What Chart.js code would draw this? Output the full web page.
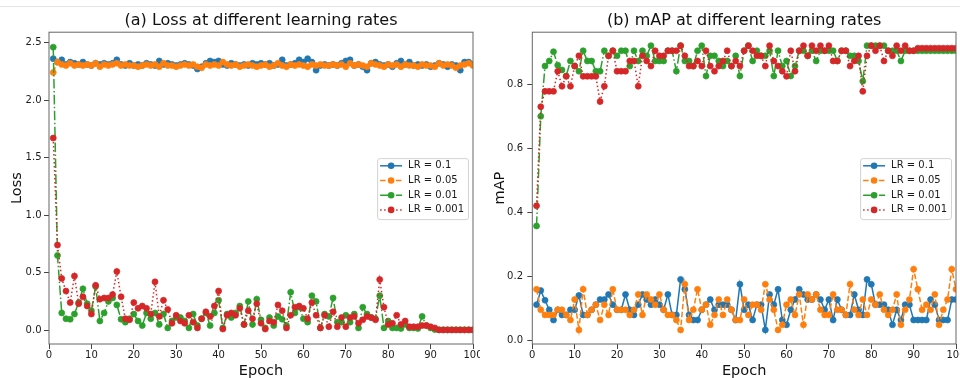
<!DOCTYPE html>
<html>
<head>
<meta charset="utf-8">
<script src="https://cdn.jsdelivr.net/npm/chart.js@4.4.1/dist/chart.umd.min.js"></script>
<style>
    html, body { margin: 0; padding: 0; background: #fff; }
    #wrap { position: relative; width: 960px; height: 378px; overflow: hidden; }
    .topline { position: absolute; left: 0; top: 6px; width: 960px; height: 1px; background: #e4e4e4; }
    .panel { position: absolute; top: 0; width: 480px; height: 378px; }
</style>
</head>
<body>
<div id="wrap">
    <div class="topline"></div>
    <div class="panel" style="left:0"><canvas id="lossChart"></canvas></div>
    <div class="panel" style="left:480px"><canvas id="mapChart"></canvas></div>
</div>
<script>
// ----------------- Data -----------------//
const epochs = Array.from({ length: 100 }, (_, i) => i + 1);
const seriesLabels = ['LR = 0.1', 'LR = 0.05', 'LR = 0.01', 'LR = 0.001'];
const xTicks = [0, 10, 20, 30, 40, 50, 60, 70, 80, 90, 100];
const lossTicks = [0.0, 0.5, 1.0, 1.5, 2.0, 2.5];
const mapTicks = [0.0, 0.2, 0.4, 0.6, 0.8];

// (a) Loss
const lossLr01 = [
    2.36, 2.33, 2.35, 2.31, 2.33, 2.32, 2.31, 2.33, 2.31, 2.30,
    2.32, 2.31, 2.32, 2.31, 2.32, 2.35, 2.31, 2.30, 2.32, 2.30,
    2.31, 2.30, 2.32, 2.31, 2.30, 2.34, 2.31, 2.32, 2.31, 2.30,
    2.31, 2.32, 2.31, 2.30, 2.27, 2.29, 2.32, 2.34, 2.33, 2.34,
    2.31, 2.30, 2.32, 2.31, 2.30, 2.31, 2.30, 2.32, 2.31, 2.32,
    2.31, 2.32, 2.30, 2.31, 2.35, 2.30, 2.31, 2.32, 2.35, 2.33,
    2.36, 2.33, 2.26, 2.30, 2.31, 2.30, 2.31, 2.30, 2.32, 2.34,
    2.35, 2.30, 2.31, 2.29, 2.26, 2.32, 2.33, 2.31, 2.30, 2.31,
    2.29, 2.32, 2.34, 2.31, 2.33, 2.30, 2.31, 2.30, 2.31, 2.29,
    2.30, 2.32, 2.31, 2.29, 2.31, 2.30, 2.26, 2.33, 2.33, 2.31
];
const lossLr005 = [
    2.24, 2.33, 2.31, 2.30, 2.32, 2.30, 2.31, 2.30, 2.31, 2.30,
    2.32, 2.29, 2.31, 2.30, 2.31, 2.32, 2.30, 2.31, 2.30, 2.30,
    2.29, 2.30, 2.31, 2.30, 2.31, 2.29, 2.32, 2.30, 2.30, 2.29,
    2.30, 2.31, 2.30, 2.31, 2.29, 2.28, 2.31, 2.30, 2.31, 2.30,
    2.33, 2.31, 2.30, 2.31, 2.29, 2.30, 2.31, 2.30, 2.29, 2.30,
    2.31, 2.29, 2.30, 2.32, 2.30, 2.29, 2.31, 2.30, 2.31, 2.30,
    2.29, 2.31, 2.30, 2.31, 2.30, 2.30, 2.31, 2.30, 2.31, 2.29,
    2.32, 2.30, 2.31, 2.30, 2.29, 2.32, 2.31, 2.30, 2.29, 2.31,
    2.30, 2.31, 2.29, 2.31, 2.30, 2.30, 2.29, 2.31, 2.30, 2.30,
    2.29, 2.32, 2.30, 2.31, 2.30, 2.28, 2.30, 2.31, 2.32, 2.30
];
const lossLr001 = [
    2.46, 0.65, 0.15, 0.10, 0.095, 0.14, 0.24, 0.36, 0.23, 0.17,
    0.38, 0.08, 0.15, 0.25, 0.28, 0.22, 0.095, 0.07, 0.10, 0.14,
    0.08, 0.04, 0.15, 0.10, 0.15, 0.05, 0.14, 0.02, 0.08, 0.11,
    0.11, 0.08, 0.02, 0.14, 0.04, 0.10, 0.15, 0.04, 0.15, 0.26,
    0.02, 0.14, 0.11, 0.15, 0.21, 0.05, 0.25, 0.05, 0.27, 0.09,
    0.02, 0.11, 0.04, 0.12, 0.095, 0.04, 0.33, 0.15, 0.20, 0.10,
    0.07, 0.30, 0.25, 0.02, 0.14, 0.12, 0.28, 0.07, 0.07, 0.13,
    0.07, 0.14, 0.02, 0.20, 0.14, 0.11, 0.10, 0.30, 0.02, 0.08,
    0.02, 0.02, 0.015, 0.05, 0.02, 0.02, 0.015, 0.12, 0.04, 0.02,
    0.005, 0.004, 0.004, 0.004, 0.004, 0.004, 0.004, 0.004, 0.004, 0.004
];
const lossLr0001 = [
    1.67, 0.74, 0.45, 0.34, 0.24, 0.47, 0.23, 0.29, 0.21, 0.14,
    0.39, 0.27, 0.28, 0.28, 0.31, 0.51, 0.29, 0.10, 0.09, 0.24,
    0.19, 0.21, 0.19, 0.14, 0.42, 0.12, 0.26, 0.18, 0.06, 0.13,
    0.08, 0.06, 0.13, 0.07, 0.02, 0.10, 0.16, 0.12, 0.21, 0.34,
    0.01, 0.13, 0.15, 0.13, 0.19, 0.05, 0.17, 0.10, 0.23, 0.06,
    0.01, 0.08, 0.07, 0.22, 0.17, 0.02, 0.13, 0.20, 0.21, 0.19,
    0.10, 0.24, 0.13, 0.02, 0.13, 0.03, 0.16, 0.03, 0.11, 0.03,
    0.11, 0.12, 0.06, 0.09, 0.12, 0.11, 0.09, 0.44, 0.20, 0.05,
    0.06, 0.13, 0.05, 0.08, 0.03, 0.03, 0.03, 0.04, 0.04, 0.03,
    0.02, 0.002, 0.002, 0.002, 0.002, 0.002, 0.002, 0.002, 0.002, 0.002
];

// (b) mAP
const mapLr01 = [
    0.111, 0.155, 0.125, 0.095, 0.063, 0.095, 0.079, 0.079, 0.095, 0.095,
    0.140, 0.079, 0.079, 0.095, 0.111, 0.127, 0.127, 0.143, 0.111, 0.095,
    0.095, 0.143, 0.095, 0.079, 0.111, 0.143, 0.127, 0.111, 0.127, 0.111,
    0.095, 0.143, 0.079, 0.079, 0.190, 0.159, 0.079, 0.063, 0.063, 0.095,
    0.111, 0.127, 0.095, 0.111, 0.111, 0.111, 0.095, 0.063, 0.175, 0.095,
    0.111, 0.063, 0.111, 0.111, 0.032, 0.143, 0.111, 0.159, 0.063, 0.048,
    0.095, 0.127, 0.159, 0.143, 0.127, 0.127, 0.143, 0.127, 0.095, 0.127,
    0.063, 0.127, 0.095, 0.079, 0.079, 0.143, 0.095, 0.079, 0.190, 0.175,
    0.111, 0.111, 0.111, 0.095, 0.048, 0.095, 0.063, 0.111, 0.111, 0.063,
    0.063, 0.063, 0.063, 0.127, 0.111, 0.063, 0.063, 0.063, 0.127, 0.127
];
const mapLr005 = [
    0.159, 0.095, 0.079, 0.079, 0.079, 0.095, 0.095, 0.079, 0.063, 0.127,
    0.032, 0.159, 0.079, 0.095, 0.111, 0.063, 0.111, 0.079, 0.159, 0.095,
    0.095, 0.095, 0.079, 0.095, 0.143, 0.079, 0.143, 0.127, 0.111, 0.143,
    0.095, 0.079, 0.079, 0.063, 0.032, 0.175, 0.063, 0.095, 0.159, 0.095,
    0.111, 0.048, 0.079, 0.127, 0.079, 0.127, 0.095, 0.063, 0.063, 0.127,
    0.079, 0.111, 0.111, 0.095, 0.175, 0.127, 0.095, 0.032, 0.048, 0.111,
    0.127, 0.079, 0.143, 0.048, 0.143, 0.127, 0.143, 0.095, 0.079, 0.079,
    0.143, 0.095, 0.095, 0.079, 0.175, 0.095, 0.079, 0.127, 0.079, 0.127,
    0.111, 0.143, 0.095, 0.079, 0.095, 0.143, 0.048, 0.095, 0.127, 0.222,
    0.159, 0.095, 0.111, 0.095, 0.143, 0.048, 0.095, 0.127, 0.222, 0.159
];
const mapLr001 = [
    0.357, 0.700, 0.857, 0.873, 0.902, 0.860, 0.845, 0.826, 0.873, 0.857,
    0.841, 0.905, 0.873, 0.873, 0.841, 0.841, 0.905, 0.889, 0.905, 0.889,
    0.905, 0.905, 0.857, 0.905, 0.873, 0.905, 0.889, 0.921, 0.873, 0.873,
    0.873, 0.905, 0.905, 0.841, 0.921, 0.873, 0.873, 0.857, 0.905, 0.921,
    0.826, 0.889, 0.889, 0.873, 0.857, 0.873, 0.857, 0.889, 0.826, 0.905,
    0.921, 0.873, 0.905, 0.889, 0.889, 0.905, 0.826, 0.905, 0.857, 0.873,
    0.826, 0.857, 0.905, 0.905, 0.889, 0.905, 0.873, 0.905, 0.905, 0.905,
    0.905, 0.873, 0.905, 0.905, 0.889, 0.889, 0.873, 0.810, 0.921, 0.921,
    0.921, 0.921, 0.921, 0.905, 0.905, 0.905, 0.873, 0.905, 0.905, 0.905,
    0.905, 0.905, 0.905, 0.905, 0.905, 0.905, 0.905, 0.905, 0.905, 0.905
];
const mapLr0001 = [
    0.420, 0.730, 0.778, 0.778, 0.778, 0.841, 0.794, 0.825, 0.794, 0.857,
    0.889, 0.825, 0.825, 0.825, 0.825, 0.746, 0.794, 0.889, 0.905, 0.841,
    0.841, 0.841, 0.873, 0.873, 0.794, 0.889, 0.873, 0.857, 0.905, 0.889,
    0.889, 0.905, 0.905, 0.905, 0.921, 0.889, 0.857, 0.857, 0.873, 0.857,
    0.905, 0.857, 0.841, 0.857, 0.873, 0.905, 0.857, 0.873, 0.857, 0.905,
    0.921, 0.905, 0.889, 0.889, 0.857, 0.921, 0.873, 0.857, 0.841, 0.825,
    0.905, 0.841, 0.905, 0.921, 0.889, 0.921, 0.905, 0.921, 0.905, 0.921,
    0.873, 0.873, 0.905, 0.905, 0.857, 0.873, 0.889, 0.778, 0.889, 0.921,
    0.905, 0.921, 0.873, 0.905, 0.889, 0.921, 0.905, 0.921, 0.905, 0.905,
    0.913, 0.913, 0.913, 0.913, 0.913, 0.913, 0.913, 0.913, 0.913, 0.913
];

// ----------------- Styles -----------------//
Chart.defaults.font.family = '"DejaVu Sans", sans-serif';
Chart.defaults.color = '#1a1a1a';
const seriesColors = ['#1f77b4', '#ff7f0e', '#2ca02c', '#d62728'];
const seriesDash = [[], [5.5, 2.4], [9.6, 2.4, 1.5, 2.4], [1.5, 2.5]];

// cadre complet autour de la zone de tracé (comme matplotlib)
const frameBox = {
    id: 'frameBox',
    afterDatasetsDraw(chart) {
        const { ctx, chartArea: a } = chart;
        ctx.save();
        ctx.strokeStyle = '#666';
        ctx.lineWidth = 1;
        ctx.strokeRect(a.left, a.top, a.right - a.left, a.bottom - a.top);
        ctx.restore();
    }
};

// légende ligne + marqueur, centrée à droite
const lineLegend = {
    id: 'lineLegend',
    afterDraw(chart) {
        const { ctx, chartArea: a } = chart;
        const sets = chart.data.datasets;
        ctx.save();
        ctx.font = '10px "DejaVu Sans"';
        let textW = 0;
        sets.forEach(ds => { textW = Math.max(textW, ctx.measureText(ds.label).width); });
        const rowH = 14.7;
        const w = 3 + 22 + 6 + textW + 4;
        const h = 61;
        const x0 = a.right - 5 - w;
        const y0 = (a.top + a.bottom) / 2 - h / 2 + 0.5;
        ctx.beginPath();
        ctx.roundRect(x0 + 0.5, y0 + 0.5, w, h, 2.5);
        ctx.fillStyle = 'rgba(255,255,255,0.85)';
        ctx.fill();
        ctx.strokeStyle = '#d3d3d3';
        ctx.lineWidth = 1;
        ctx.stroke();
        sets.forEach((ds, i) => {
            const cy = y0 + 7.7 + i * rowH;
            ctx.strokeStyle = ds.borderColor;
            ctx.lineWidth = ds.borderWidth;
            ctx.setLineDash(ds.borderDash);
            ctx.beginPath();
            ctx.moveTo(x0 + 3, cy);
            ctx.lineTo(x0 + 25, cy);
            ctx.stroke();
            ctx.setLineDash([]);
            ctx.beginPath();
            ctx.arc(x0 + 14, cy, 3.3, 0, Math.PI * 2);
            ctx.fillStyle = ds.borderColor;
            ctx.fill();
            ctx.fillStyle = '#1a1a1a';
            ctx.textBaseline = 'middle';
            ctx.textAlign = 'left';
            ctx.fillText(ds.label, x0 + 31, cy);
        });
        ctx.restore();
    }
};

function buildDatasets(seriesList) {
    return seriesList.map((values, i) => ({
        label: seriesLabels[i],
        data: values.map((v, k) => ({ x: epochs[k], y: v })),
        borderColor: seriesColors[i],
        backgroundColor: seriesColors[i],
        borderWidth: 1.5,
        borderDash: seriesDash[i],
        pointRadius: 3,
        pointHoverRadius: 3,
        pointBorderWidth: 0.7,
        pointBackgroundColor: seriesColors[i],
        pointBorderColor: seriesColors[i],
        tension: 0,
        order: 4 - i   // rouge dessiné en dernier
    }));
}

function makePanel(canvasId, p) {
    const ctx = document.getElementById(canvasId).getContext('2d');
    return new Chart(ctx, {
        type: 'line',
        data: { datasets: buildDatasets(p.series) },
        plugins: [frameBox, lineLegend],
        options: {
            responsive: true,
            maintainAspectRatio: false,
            animation: false,
            devicePixelRatio: 1,
            layout: { padding: { left: 0, right: p.rightPad, top: 0, bottom: 0 } },
            plugins: {
                legend: { display: false },
                tooltip: { enabled: false },
                title: {
                    display: true,
                    text: p.title,
                    fullSize: false,
                    font: { size: 16, weight: 'normal' },
                    color: '#111',
                    padding: { top: 11, bottom: 2 }
                }
            },
            scales: {
                x: {
                    type: 'linear',
                    min: 0,
                    max: 100,
                    afterBuildTicks: s => { s.ticks = xTicks.map(v => ({ value: v })); },
                    afterFit: s => { s.height = 34; s.paddingLeft = 0; s.paddingRight = 0; },
                    border: { display: false },
                    grid: { drawOnChartArea: false, drawTicks: true, tickLength: 5, tickColor: '#444', tickWidth: 1 },
                    ticks: { font: { size: 10 }, padding: 0, maxRotation: 0, autoSkip: false, color: '#1a1a1a' },
                    title: { display: true, text: 'Epoch', font: { size: 14.5, lineHeight: 1 }, padding: { top: 0, bottom: 0 }, color: '#111' }
                },
                y: {
                    type: 'linear',
                    min: p.yMin,
                    max: p.yMax,
                    afterBuildTicks: s => { s.ticks = p.yTicks.map(v => ({ value: v })); },
                    afterFit: s => { s.width = p.yWidth; s.paddingTop = 0; s.paddingBottom = 0; },
                    border: { display: false },
                    grid: { drawOnChartArea: false, drawTicks: true, tickLength: 5, tickColor: '#444', tickWidth: 1 },
                    ticks: { font: { size: 10 }, padding: p.yTickPad, color: '#1a1a1a', callback: v => v.toFixed(1) },
                    title: { display: true, text: p.yTitle, font: { size: 14.5, lineHeight: 1 }, padding: { top: p.yTitlePad, bottom: 0 }, color: '#111' }
                }
            }
        }
    });
}

makePanel('lossChart', {
    title: '(a) Loss at different learning rates',
    yTitle: 'Loss',
    series: [lossLr01, lossLr005, lossLr001, lossLr0001],
    yMin: -0.12, yMax: 2.59, yTicks: lossTicks,
    yWidth: 49, yTickPad: 2.5, yTitlePad: 9.5, rightPad: 7
});

makePanel('mapChart', {
    title: '(b) mAP at different learning rates',
    yTitle: 'mAP',
    series: [mapLr01, mapLr005, mapLr001, mapLr0001],
    yMin: -0.012, yMax: 0.963, yTicks: mapTicks,
    yWidth: 52.3, yTickPad: 4.3, yTitlePad: 13, rightPad: 4
});
</script>
</body>
</html>
